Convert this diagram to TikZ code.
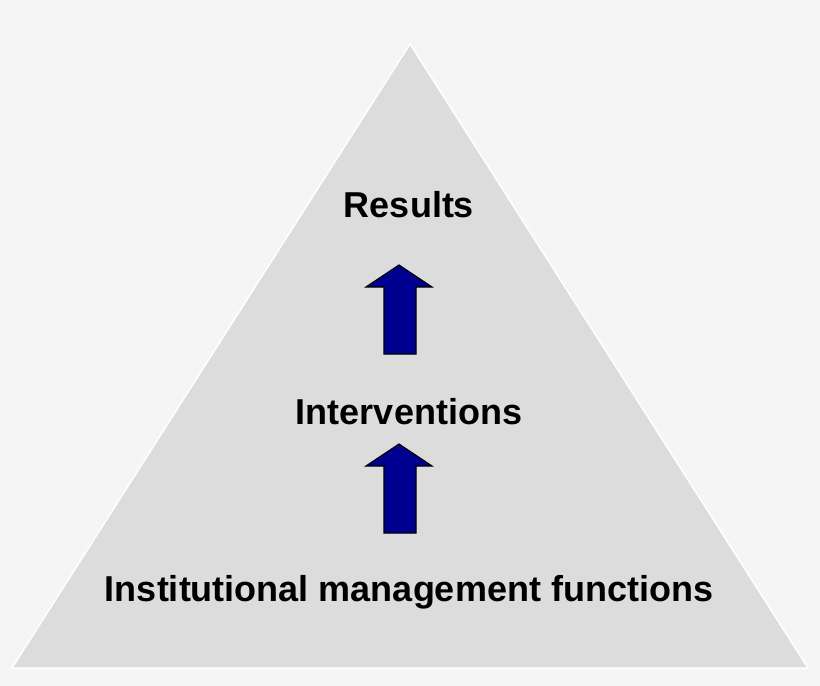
\documentclass[tikz,border=0pt]{standalone}
\usepackage{fontspec}
\setmainfont{Liberation Sans}
\definecolor{bg}{HTML}{F5F5F5}
\definecolor{tri}{HTML}{DCDCDC}
\definecolor{navy}{HTML}{000090}
\begin{document}
\begin{tikzpicture}[x=1pt,y=-1pt,
  lbl/.style={font=\bfseries\fontsize{36}{42}\selectfont, text=black},
  uparrow/.style={fill=navy, draw=black, line width=1.2pt}]
\fill[bg] (0,0) rectangle (820,686);
\useasboundingbox (0,0) rectangle (820,686);
\filldraw[fill=tri, draw=white, line width=1.5pt] (410,44) -- (808,668) -- (12,668) -- cycle;
\node[lbl] (res) at (409,205) {Results};
\node[lbl] (int) at (409,412) {Interventions};
\node[lbl] (inst) at (409,592) {Institutional management functions};
\foreach \t/\b in {265/354, 444/533}{
  \draw[uparrow] (399,\t) -- (432,\t+22) -- (416,\t+22) -- (416,\b) -- (384,\b) -- (384,\t+22) -- (366,\t+22) -- cycle;
}
\end{tikzpicture}
\end{document}
